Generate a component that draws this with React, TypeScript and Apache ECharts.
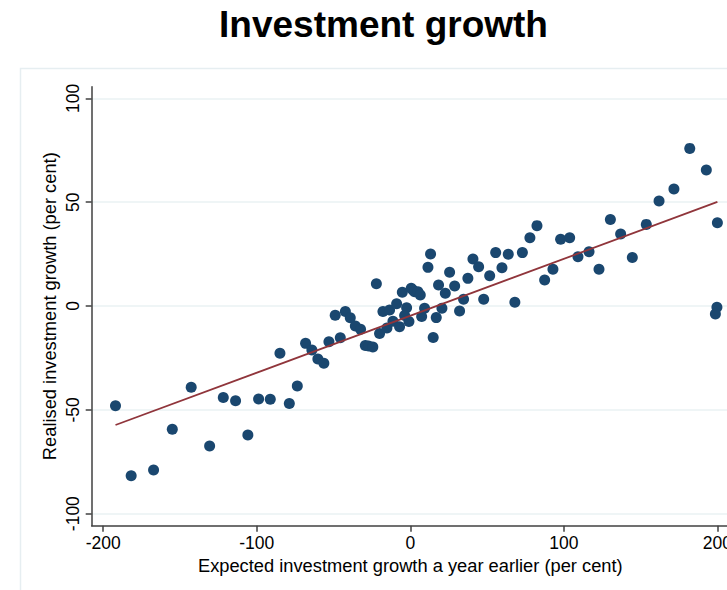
import React, { useEffect, useRef } from "react";
import * as echarts from "echarts";

const titleText = "Investment growth";
const xAxisName = "Expected investment growth a year earlier (per cent)";
const yAxisName = "Realised investment growth (per cent)";

const xTicks = [-200, -100, 0, 100, 200];
const yTicks = [-100, -50, 0, 50, 100];
const xRange = [-207.5, 207.5];
const yRange = [-105.8, 105.6];

// expected growth (x) and realised growth (y)
const expected = [
  -192, -181.8, -167.2, -155, -142.7, -130.7, -121.8, -113.8, -105.8, -98.8,
  -91.2, -84.9, -78.8, -73.6, -68.2, -64.1, -60.2, -56.3, -53, -48.9,
  -45.6, -42.3, -39.1, -35.8, -32.4, -29.3, -27.2, -24.4, -22.1, -20,
  -17.8, -15.2, -13.5, -11.3, -8.9, -7, -5.2, -2.4, -3.7, -0.9,
  0.6, 1.7, 2.8, 5, 6.5, 7.4, 9.3, 13.2, 11.5, 16.9,
  14.9, 18.4, 20.6, 22.8, 25.6, 28.9, 32.1, 34.7, 37.5, 40.8,
  44.5, 47.8, 51.7, 55.6, 59.7, 63.8, 68.1, 73, 77.9, 82.5,
  87.5, 92.9, 97.9, 103.8, 109.2, 116.4, 122.9, 130.3, 137, 144.6,
  153.7, 162, 171.7, 182, 192.8, 200, 199.7, 198.7,
];
const realised = [
  -48, -81.7, -79, -59.4, -39.1, -67.4, -44.1, -45.6, -62.1, -44.8,
  -44.9, -22.8, -47, -38.5, -18, -21.2, -25.5, -27.6, -17.2, -4.5,
  -15.3, -2.7, -5.7, -9.6, -11.2, -19, -19.3, -19.7, 10.7, -13.3,
  -2.7, -10.6, -1.9, -7.3, 1.1, -10, 6.6, -0.8, -4.6, -7.5,
  8.5, 7.7, 6.9, 6.9, 5.3, -5.1, -1.1, 25, 18.6, -5.6,
  -15.2, 10.1, -1.1, 6.1, 16.2, 9.6, -2.4, 3.2, 13.3, 22.6,
  18.9, 3.2, 14.6, 25.7, 18.4, 24.9, 1.8, 25.7, 32.9, 38.7,
  12.5, 17.7, 32.1, 32.9, 23.7, 26.1, 17.7, 41.7, 34.7, 23.4,
  39.3, 50.6, 56.3, 75.9, 65.5, 40.1, -0.6, -3.9,
];

// fitted line
const fitIntercept = -4.7;
const fitSlope = 0.274;
const fitSpan = [-192, 200];

const FONT = "'Liberation Sans', Arial, Helvetica, sans-serif";

export default function App() {
  const ref = useRef<HTMLDivElement>(null);
  useEffect(() => {
    if (!ref.current) return;
    const chart = echarts.init(ref.current, undefined, { renderer: "svg" });
    const points = expected.map((x, i) => [x, realised[i]]);
    const fit = fitSpan.map((x) => [x, fitIntercept + fitSlope * x]);
    chart.setOption({
      animation: false,
      backgroundColor: "#ffffff",
      title: {
        text: titleText,
        left: "center",
        top: 1,
        textStyle: { fontFamily: FONT, fontSize: 37, fontWeight: "bold", color: "#000000" },
      },
      graphic: [
        {
          type: "rect",
          shape: { x: 20.5, y: 68.5, width: 726, height: 600 },
          style: { fill: "none", stroke: "#e6eef1", lineWidth: 1.5 },
          silent: true,
          z: -1,
        },
      ],
      grid: { left: 91.7, top: 86.7, width: 637.2, height: 439, containLabel: false },
      xAxis: {
        type: "value",
        min: xRange[0],
        max: xRange[1],
        name: xAxisName,
        nameLocation: "middle",
        nameGap: 31,
        nameMoveOverlap: false,
        nameTextStyle: { fontFamily: FONT, fontSize: 18.3, color: "#000" },
        axisLine: { show: true, onZero: false, lineStyle: { color: "#404040", width: 1.5 } },
        axisTick: { show: true, length: 6, customValues: xTicks, lineStyle: { color: "#404040", width: 1.5 } },
        axisLabel: { customValues: xTicks, fontFamily: FONT, fontSize: 17.5, color: "#000", margin: 8 },
        splitLine: { show: false },
      },
      yAxis: {
        type: "value",
        min: yRange[0],
        max: yRange[1],
        name: yAxisName,
        nameLocation: "middle",
        nameGap: 33,
        nameMoveOverlap: false,
        nameTextStyle: { fontFamily: FONT, fontSize: 18.3, color: "#000" },
        axisLine: { show: true, onZero: false, lineStyle: { color: "#404040", width: 1.5 } },
        axisTick: { show: true, length: 6, customValues: yTicks, lineStyle: { color: "#404040", width: 1.5 } },
        axisLabel: { customValues: yTicks, rotate: 90, fontFamily: FONT, fontSize: 17.5, color: "#000", margin: 10 },
        splitLine: { show: true, lineStyle: { color: "#eaf2f3", width: 1.5 } },
      },
      series: [
        {
          type: "scatter",
          data: points,
          symbol: "circle",
          symbolSize: 11,
          itemStyle: { color: "#1a476f", opacity: 1 },
          z: 2,
        },
        {
          type: "line",
          data: fit,
          symbol: "none",
          lineStyle: { color: "#90353b", width: 1.8 },
          z: 3,
        },
      ],
    });
    return () => chart.dispose();
  }, []);
  return (
    <div style={{ position: "fixed", left: 0, top: 0, width: 727, height: 590, overflow: "hidden", background: "#fff" }}>
      <div ref={ref} style={{ width: 767, height: 590 }} />
    </div>
  );
}
